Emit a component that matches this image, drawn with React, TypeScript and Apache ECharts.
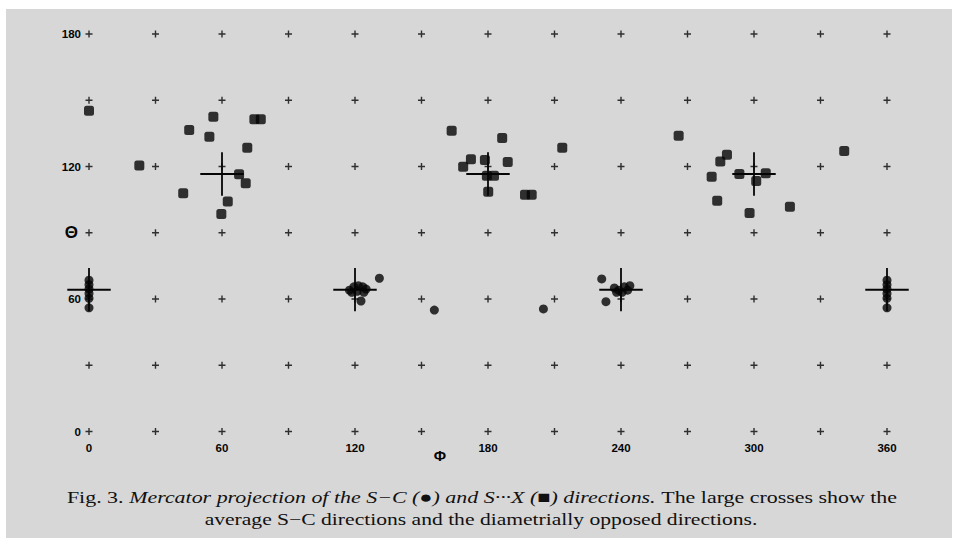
import React, { useEffect, useRef } from "react";
import * as echarts from "echarts";

// Axis ticks (degrees)
const phiTicks = [0, 30, 60, 90, 120, 150, 180, 210, 240, 270, 300, 330, 360];
const thetaTicks = [0, 30, 60, 90, 120, 150, 180];
const phiLabelled = [0, 60, 120, 180, 240, 300, 360];
const thetaLabelled = [0, 60, 120, 180];

// S···X directions (squares): [phi, theta]
const sxPoints: [number, number][] = [
  [0, 145.3], [56.1, 142.5], [74.6, 141.4], [77.5, 141.4], [45.2, 136.5],
  [54.3, 133.5], [71.4, 128.5], [22.7, 120.4], [67.7, 116.5], [70.7, 112.4],
  [42.5, 107.9], [62.6, 104.1], [59.7, 98.5],
  [163.6, 136.2], [186.4, 132.9], [213.5, 128.5], [172.3, 123.3], [178.6, 122.9],
  [168.8, 119.9], [188.9, 122.0], [179.5, 115.8], [182.7, 115.8], [180.1, 108.6],
  [196.7, 107.2], [199.7, 107.2],
  [266.0, 133.9], [340.7, 127.0], [287.8, 125.3], [284.8, 122.3], [280.9, 115.4],
  [293.4, 116.6], [305.3, 117.0], [301.0, 113.4], [283.4, 104.5], [316.2, 101.8],
  [298.0, 98.9],
];

// S–C directions (circles): [phi, theta]
const scPoints: [number, number][] = [
  [0, 68.5], [0, 66.5], [0, 64.5], [0, 62.5], [0, 60.3], [0, 56.0],
  [360, 68.5], [360, 66.5], [360, 64.5], [360, 62.5], [360, 60.3], [360, 56.0],
  [117.5, 64.0], [119.5, 65.5], [121.5, 66.0], [123.5, 65.5], [125.0, 64.5],
  [118.5, 63.0], [121.0, 63.5], [124.0, 63.0],
  [131.0, 69.4], [122.7, 59.1], [155.8, 55.0],
  [205.0, 55.5], [231.3, 69.1], [233.2, 58.8],
  [237.0, 65.0], [239.0, 64.0], [241.5, 65.5], [244.0, 66.0], [238.0, 63.0],
  [240.5, 63.0], [243.0, 64.0],
];

// Large crosses: average S–C directions and diametrically opposed directions
const averageCrosses: [number, number][] = [
  [0, 64.2], [120, 64.2], [240, 64.2], [360, 64.2],
  [60, 116.6], [180, 116.6], [300, 116.6],
];
const crossArm = 9.8; // half-length of a large cross arm, degrees

const INK = "#050505";
const BG = "#d7d7d7";

export default function App() {
  const ref = useRef<HTMLDivElement>(null);
  useEffect(() => {
    if (!ref.current) return;
    const chart = echarts.init(ref.current, undefined, { renderer: "svg" });
    const gridMarks: [number, number][] = [];
    phiTicks.forEach((p) => thetaTicks.forEach((t) => gridMarks.push([p, t])));

    const labelFont = {
      fontFamily: "Liberation Sans",
      fontSize: 11.5,
      fontWeight: "bold" as const,
      color: INK,
    };

    chart.setOption({
      animation: false,
      backgroundColor: "transparent",
      grid: { left: 89, right: 71, top: 34, bottom: 112.5, containLabel: false },
      xAxis: {
        type: "value",
        min: 0,
        max: 360,
        interval: 30,
        axisLine: { show: false },
        axisTick: { show: false },
        splitLine: { show: false },
        axisLabel: {
          ...labelFont,
          margin: 10,
          formatter: (v: number) => (phiLabelled.includes(v) ? String(v) : ""),
        },
      },
      yAxis: {
        type: "value",
        min: 0,
        max: 180,
        interval: 30,
        axisLine: { show: false },
        axisTick: { show: false },
        splitLine: { show: false },
        axisLabel: {
          ...labelFont,
          margin: 8,
          formatter: (v: number) =>
            v === 90 ? "{t|Θ}" : thetaLabelled.includes(v) ? String(v) : "",
          rich: {
            t: { fontFamily: "Liberation Sans", fontSize: 17, fontWeight: "bold", color: INK, padding: [0, 3, 0, 0] },
          },
        },
      },
      graphic: [
        {
          type: "text",
          x: 440,
          y: 455,
          style: {
            text: "Φ",
            fontFamily: "Liberation Sans",
            fontSize: 15,
            fontWeight: "bold",
            fill: INK,
            textAlign: "center",
            textVerticalAlign: "middle",
          },
        },
        {
          type: "text",
          x: 482,
          y: 497,
          scaleX: 1.29,
          style: {
            text:
              "{n|Fig. 3.} {i|Mercator projection of the S−C (●) and S···X (■) directions.} {n|The large crosses show the}",
            textAlign: "center",
            textVerticalAlign: "middle",
            fill: "#111",
            rich: {
              n: { fontFamily: "Liberation Serif", fontSize: 17, fill: "#111" },
              i: { fontFamily: "Liberation Serif", fontSize: 17, fontStyle: "italic", fill: "#111" },
            },
            fontFamily: "Liberation Serif",
            fontSize: 17,
          },
        },
        {
          type: "text",
          x: 481,
          y: 519,
          scaleX: 1.27,
          style: {
            text: "average S−C directions and the diametrially opposed directions.",
            fontFamily: "Liberation Serif",
            fontSize: 17,
            fill: "#111",
            textAlign: "center",
            textVerticalAlign: "middle",
          },
        },
      ],
      series: [
        {
          type: "scatter",
          data: gridMarks,
          symbol: "path://M2.4,0H3.6V2.4H6V3.6H3.6V6H2.4V3.6H0V2.4H2.4Z",
          symbolSize: 7,
          itemStyle: { color: INK },
          silent: true,
          z: 1,
        },
        {
          type: "custom",
          data: averageCrosses,
          clip: false,
          encode: { x: 0, y: 1 },
          z: 2,
          renderItem: (_params: any, api: any) => {
            const p = api.value(0);
            const t = api.value(1);
            const l = api.coord([p - crossArm, t]);
            const r = api.coord([p + crossArm, t]);
            const top = api.coord([p, t + crossArm]);
            const bot = api.coord([p, t - crossArm]);
            return {
              type: "group",
              children: [
                { type: "line", shape: { x1: l[0], y1: l[1], x2: r[0], y2: r[1] }, style: { stroke: INK, lineWidth: 1.8 } },
                { type: "line", shape: { x1: top[0], y1: top[1], x2: bot[0], y2: bot[1] }, style: { stroke: INK, lineWidth: 1.8 } },
              ],
            };
          },
        },
        {
          type: "scatter",
          name: "S···X",
          data: sxPoints,
          symbol: "roundRect",
          symbolSize: 10,
          itemStyle: { color: INK },
          z: 3,
        },
        {
          type: "scatter",
          name: "S−C",
          data: scPoints,
          symbol: "circle",
          symbolSize: 9,
          itemStyle: { color: INK },
          z: 3,
        },
      ],
    });
    return () => chart.dispose();
  }, []);

  return (
    <div style={{ position: "absolute", left: 0, top: 0, width: 958, height: 544, background: "#fff" }}>
      <div style={{ position: "absolute", left: 6, top: 9, width: 946, height: 529, background: BG }} />
      <div ref={ref} style={{ position: "absolute", left: 0, top: 0, width: 958, height: 544 }} />
    </div>
  );
}
